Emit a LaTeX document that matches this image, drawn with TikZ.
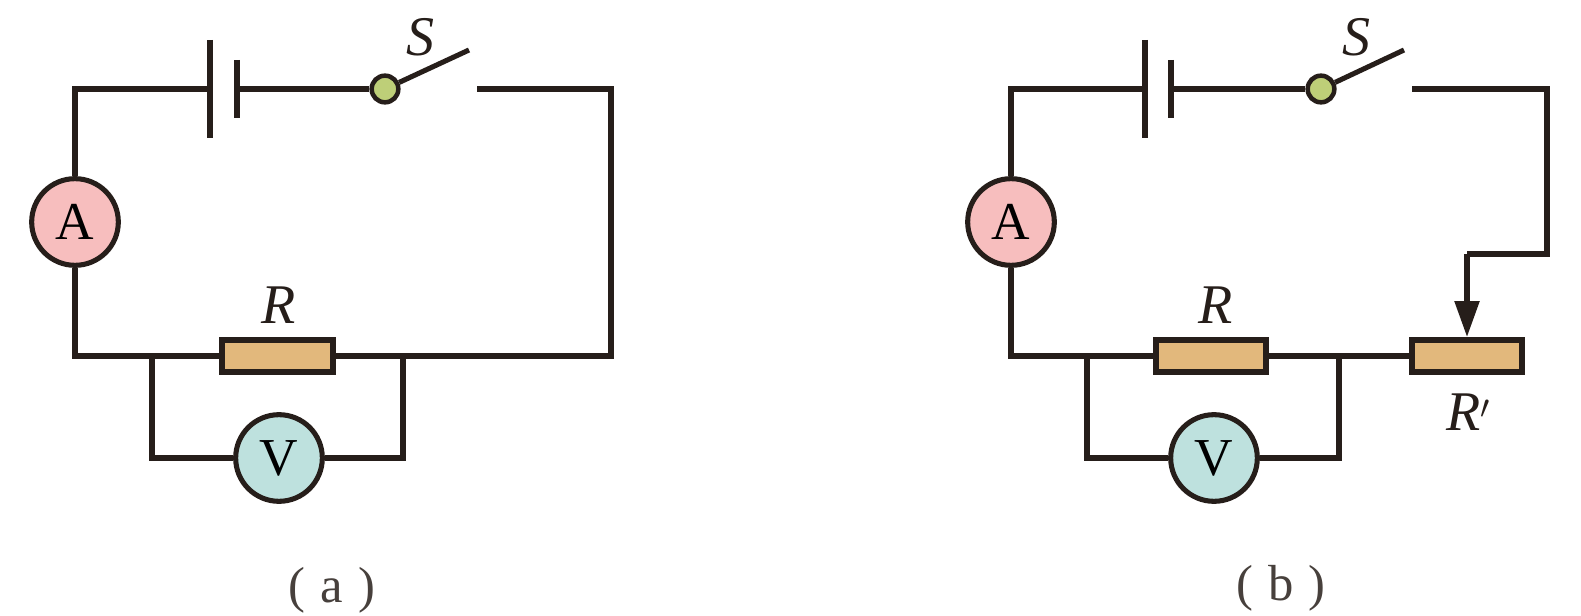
\documentclass[tikz,border=0pt]{standalone}
\usepackage{fontspec}
\setmainfont{Liberation Serif}
\usetikzlibrary{arrows.meta}
\definecolor{wirecol}{RGB}{38,30,26}
\definecolor{resfill}{RGB}{226,184,124}
\definecolor{pivotfill}{RGB}{190,207,120}
\definecolor{ammfill}{RGB}{247,190,190}
\definecolor{voltfill}{RGB}{190,225,222}
\tikzset{
  wire/.style={draw=wirecol,line width=4pt,line join=miter},
  plate/.style={draw=wirecol,line width=3.8pt},
  meter/.style={circle,draw=wirecol,line width=3.8pt,minimum size=65pt,inner sep=0pt,font=\fontsize{40}{40}\selectfont},
  resbox/.style={rectangle,draw=wirecol,fill=resfill,line width=4.4pt,minimum width=83pt,minimum height=24pt,inner sep=0pt},
  pivot/.style={circle,draw=wirecol,fill=pivotfill,line width=3.4pt,minimum size=20pt,inner sep=0pt},
  lab/.style={font=\fontsize{42}{42}\selectfont\itshape,text=wirecol,inner sep=0pt},
  captext/.style={font=\fontsize{38}{38}\selectfont,text=wirecol!85,inner sep=0pt}
}
\begin{document}
\begin{tikzpicture}[x=0.75pt,y=0.75pt,yscale=-1,xscale=1]
\useasboundingbox (0,0) rectangle (1581,616);
%Circuit a
\node[meter,fill=ammfill] (ammA) at (75,222) {A};
\node[meter,fill=voltfill] (voltA) at (279,458) {V};
\node[resbox] (resA) at (277.5,356) {};
\node[pivot] (pivA) at (385,89) {};
\node[lab] (labSA) at (420,37) {S};
\node[lab] (labRA) at (279,305) {R};
\node[captext] (capA) at (332,590) {(\hspace{0.3em}a\hspace{0.3em})};
\coordinate (cornTLA) at (75,89);
\coordinate (cornBLA) at (75,356);
\coordinate (cornTRA) at (611,89);
\coordinate (cornBRA) at (611,356);
\coordinate (gapA) at (477,89);
\coordinate (bladeA) at (469,50);
\coordinate (batLA) at (210,89);
\coordinate (batLtA) at (210,40);
\coordinate (batLbA) at (210,138);
\coordinate (batSA) at (237,89);
\coordinate (batStA) at (237,60);
\coordinate (batSbA) at (237,118);
\coordinate (tapLA) at (152,356);
\coordinate (tapRA) at (403,356);
\coordinate (tapLbA) at (152,458);
\coordinate (tapRbA) at (403,458);
%Straight Lines
\draw[wire] (ammA) -- (cornTLA) -- (batLA);
\draw[wire] (ammA) -- (cornBLA) -- (resA);
\draw[wire] (batSA) -- (pivA);
\draw[wire] (gapA) -- (cornTRA) -- (cornBRA) -- (resA);
\draw[wire] (tapLA) -- (tapLbA) -- (voltA);
\draw[wire] (tapRA) -- (tapRbA) -- (voltA);
\draw[plate] (batLtA) -- (batLbA);
\draw[plate] (batStA) -- (batSbA);
\draw[plate] (pivA) -- (bladeA);
%Circuit b
\node[meter,fill=ammfill] (ammB) at (1011,222) {A};
\node[meter,fill=voltfill] (voltB) at (1214,458) {V};
\node[resbox] (resB) at (1211,356) {};
\node[resbox] (resC) at (1467,356) {};
\node[pivot] (pivB) at (1321,89) {};
\node[lab] (labSB) at (1356,37) {S};
\node[lab] (labRB) at (1216,305) {R};
\node[lab] (labRC) at (1468,412) {R$'$};
\node[captext] (capB) at (1281,588) {(\hspace{0.3em}b\hspace{0.3em})};
\coordinate (cornTLB) at (1011,89);
\coordinate (cornBLB) at (1011,356);
\coordinate (cornTRB) at (1547,89);
\coordinate (cornMRB) at (1547,254);
\coordinate (cornMLB) at (1467,254);
\coordinate (gapB) at (1412,89);
\coordinate (bladeB) at (1404,50);
\coordinate (batLB) at (1145,89);
\coordinate (batLtB) at (1145,40);
\coordinate (batLbB) at (1145,138);
\coordinate (batSB) at (1171,89);
\coordinate (batStB) at (1171,60);
\coordinate (batSbB) at (1171,118);
\coordinate (tapLB) at (1087,356);
\coordinate (tapRB) at (1339,356);
\coordinate (tapLbB) at (1087,458);
\coordinate (tapRbB) at (1339,458);
%Straight Lines
\draw[wire] (ammB) -- (cornTLB) -- (batLB);
\draw[wire] (ammB) -- (cornBLB) -- (resB);
\draw[wire] (batSB) -- (pivB);
\draw[wire] (resB) -- (resC);
\draw[wire] (gapB) -- (cornTRB) -- (cornMRB) -- (cornMLB);
\draw[wire,-{Stealth[inset=0pt,length=27pt,width=18pt]}] (cornMLB) -- (resC.north);
\draw[wire] (tapLB) -- (tapLbB) -- (voltB);
\draw[wire] (tapRB) -- (tapRbB) -- (voltB);
\draw[plate] (batLtB) -- (batLbB);
\draw[plate] (batStB) -- (batSbB);
\draw[plate] (pivB) -- (bladeB);
\end{tikzpicture}
\end{document}
